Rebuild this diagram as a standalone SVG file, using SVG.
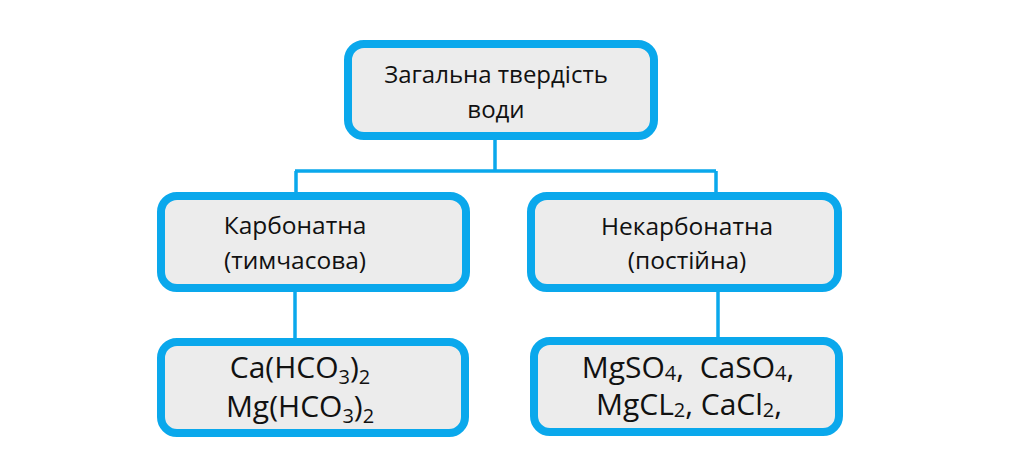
<svg xmlns="http://www.w3.org/2000/svg" width="1024" height="475" viewBox="0 0 1024 475">
<style>
.box{fill:#ececec;stroke:#0aa8ec;stroke-width:8}
.con{fill:none;stroke:#0aa8ec;stroke-width:3.5}
text{font-family:"Open Sans","Noto Sans","DejaVu Sans",sans-serif;fill:#111;text-anchor:middle;white-space:pre}
.t1{font-size:24px}
.t2{font-size:24.5px}
.t3{font-size:30px}
</style>
<rect width="1024" height="475" fill="#fff"/>
<g id="connectors">
<path class="con" d="M495,138 V171 M295,171 H716 M296,171 V196 M716,171 V196"/>
<path class="con" d="M295,290 V341"/>
<path class="con" d="M718,290 V341"/>
</g>
<g id="node-total">
<rect class="box" x="348" y="44" width="306" height="92" rx="16"/>
<text class="t1" x="496" y="83">Загальна твердість</text>
<text class="t1" x="496" y="118">води</text>
</g>
<g id="node-carbonate">
<rect class="box" x="161" y="196" width="305" height="92" rx="16"/>
<text class="t2" x="295" y="234">Карбонатна</text>
<text class="t2" x="295" y="269">(тимчасова)</text>
</g>
<g id="node-noncarbonate">
<rect class="box" x="531" y="196" width="307" height="92" rx="16"/>
<text class="t2" x="687" y="235">Некарбонатна</text>
<text class="t2" x="687" y="269">(постійна)</text>
</g>
<g id="node-carb-salts">
<rect class="box" x="161" y="342" width="304" height="91" rx="16"/>
<text class="t3" x="300" y="378">Ca(HCO<tspan font-size="20" dy="6">3</tspan><tspan dy="-6">)</tspan><tspan font-size="20" dy="6">2</tspan></text>
<text class="t3" x="300" y="417">Mg(HCO<tspan font-size="20" dy="6">3</tspan><tspan dy="-6">)</tspan><tspan font-size="20" dy="6">2</tspan></text>
</g>
<g id="node-noncarb-salts">
<rect class="box" x="534" y="341" width="305" height="91" rx="16"/>
<text class="t3" x="688" y="378">MgSO<tspan font-size="20" dy="2">4</tspan><tspan dy="-2">,  CaSO</tspan><tspan font-size="20" dy="2">4</tspan><tspan dy="-2">,</tspan></text>
<text class="t3" x="689" y="415">MgCL<tspan font-size="20" dy="2">2</tspan><tspan dy="-2">, CaCl</tspan><tspan font-size="20" dy="2">2</tspan><tspan dy="-2">,</tspan></text>
</g>
</svg>
